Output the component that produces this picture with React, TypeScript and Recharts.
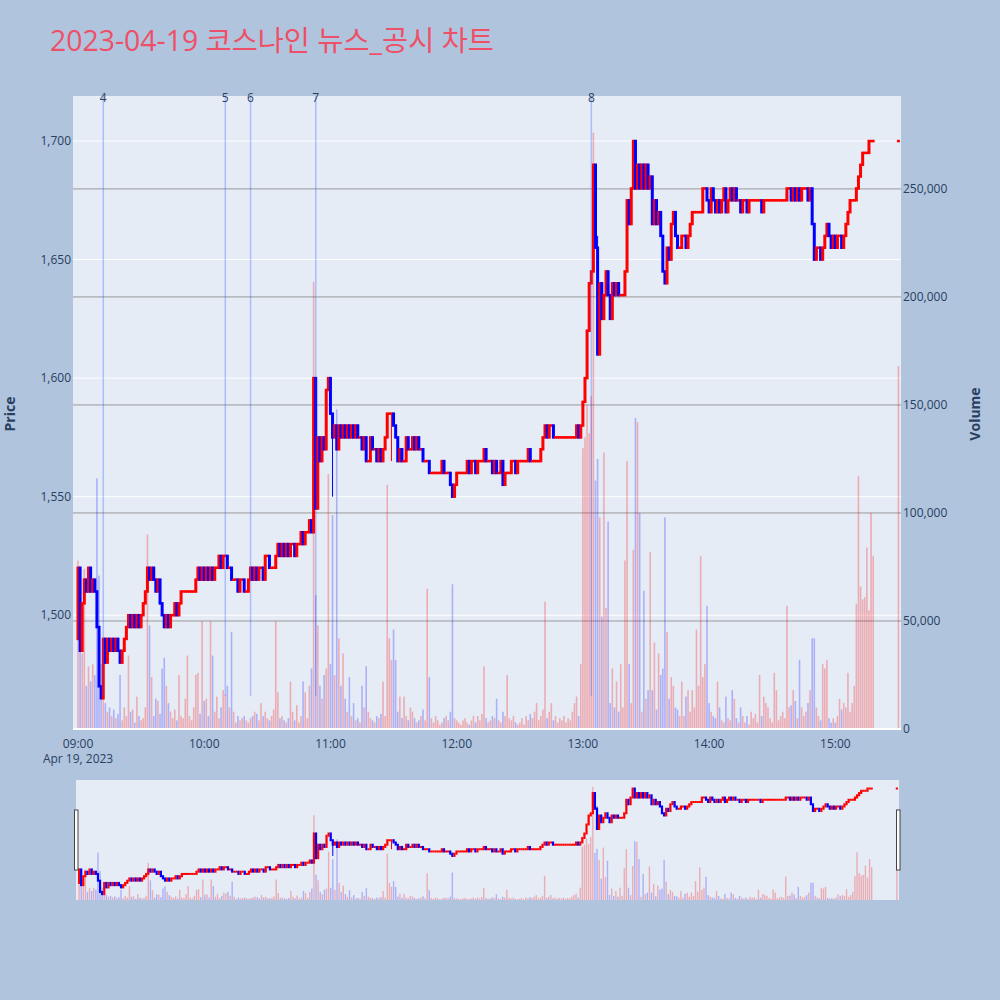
import React from "react";
import { ComposedChart, Bar, XAxis, YAxis, CartesianGrid, ReferenceLine } from "recharts";

const TITLE = "2023-04-19 코스나인 뉴스_공시 차트";
const DATE_LABEL = "Apr 19, 2023";

// first trade of the day
const FIRST_OPEN = 1490;

// close of every 1-minute candle, 09:00 .. 15:18
const closes = [
  1520, 1485, 1505, 1515, 1510, 1520, 1510, 1515, 1510, 1495,
  1470, 1465, 1490, 1480, 1490, 1485, 1490, 1485, 1490, 1485,
  1480, 1485, 1490, 1495, 1500, 1495, 1500, 1495, 1500, 1495,
  1500, 1505, 1510, 1520, 1515, 1520, 1515, 1510, 1515, 1505,
  1500, 1495, 1500, 1495, 1500, 1500, 1505, 1500, 1505, 1510,
  1510, 1510, 1510, 1510, 1510, 1510, 1515, 1520, 1515, 1520,
  1515, 1520, 1515, 1520, 1515, 1520, 1520, 1525, 1520, 1525,
  1525, 1520, 1520, 1515, 1515, 1515, 1510, 1515, 1515, 1510,
  1510, 1515, 1520, 1515, 1520, 1515, 1520, 1520, 1515, 1525,
  1525, 1520, 1520, 1520, 1525, 1530, 1525, 1530, 1525, 1530,
  1525, 1530, 1530, 1525, 1530, 1530, 1535, 1530, 1535, 1535,
  1540, 1535, 1600, 1545, 1575, 1565, 1575, 1570, 1595, 1600,
  1585, 1575, 1580, 1570, 1580, 1575, 1580, 1575, 1580, 1575,
  1580, 1575, 1580, 1575, 1575, 1570, 1575, 1565, 1565, 1575,
  1570, 1570, 1565, 1570, 1565, 1570, 1575, 1585, 1585, 1585,
  1580, 1575, 1565, 1570, 1565, 1565, 1575, 1570, 1570, 1575,
  1570, 1575, 1570, 1570, 1565, 1565, 1565, 1560, 1560, 1560,
  1560, 1560, 1560, 1565, 1560, 1560, 1560, 1555, 1550, 1555,
  1560, 1560, 1560, 1560, 1560, 1565, 1560, 1565, 1565, 1560,
  1565, 1565, 1565, 1570, 1565, 1565, 1565, 1560, 1565, 1560,
  1560, 1565, 1555, 1560, 1560, 1560, 1565, 1565, 1560, 1565,
  1565, 1565, 1565, 1565, 1570, 1565, 1565, 1565, 1565, 1565,
  1570, 1575, 1580, 1575, 1580, 1580, 1575, 1575, 1575, 1575,
  1575, 1575, 1575, 1575, 1575, 1575, 1575, 1580, 1575, 1580,
  1590, 1600, 1620, 1640, 1645, 1690, 1655, 1610, 1640, 1625,
  1635, 1645, 1635, 1625, 1640, 1635, 1640, 1635, 1635, 1635,
  1645, 1675, 1665, 1680, 1700, 1680, 1690, 1680, 1690, 1680,
  1690, 1680, 1685, 1665, 1675, 1665, 1670, 1660, 1645, 1640,
  1655, 1650, 1665, 1670, 1660, 1655, 1655, 1660, 1660, 1655,
  1660, 1665, 1670, 1670, 1670, 1670, 1670, 1680, 1680, 1675,
  1670, 1680, 1675, 1670, 1675, 1670, 1675, 1680, 1670, 1675,
  1680, 1675, 1680, 1675, 1675, 1670, 1675, 1675, 1670, 1675,
  1675, 1675, 1675, 1675, 1675, 1670, 1675, 1675, 1675, 1675,
  1675, 1675, 1675, 1675, 1675, 1675, 1675, 1680, 1680, 1675,
  1680, 1675, 1680, 1675, 1680, 1680, 1680, 1675, 1680, 1665,
  1650, 1655, 1655, 1650, 1655, 1660, 1665, 1660, 1655, 1660,
  1655, 1660, 1660, 1655, 1660, 1665, 1670, 1675, 1675, 1675,
  1680, 1685, 1690, 1695, 1695, 1695, 1700, 1700, 1700,
];

// 15:30 closing auction
const AUCTION_MINUTE = 390;
const auctionClose = 1700;

// traded volume per candle, in thousands of shares
const volumeThousands = [
  78, 50, 35, 74, 20, 29, 22, 30, 25, 116,
  71, 30, 22, 12, 8, 10, 6, 9, 5, 7,
  25, 4, 10, 6, 34, 8, 9, 3, 15, 6,
  4, 5, 10, 90, 48, 24, 6, 14, 13, 7,
  28, 33, 20, 12, 8, 5, 9, 4, 25, 6,
  5, 14, 34, 6, 4, 10, 25, 26, 7, 50,
  13, 14, 6, 50, 34, 8, 15, 5, 10, 18,
  16, 20, 10, 45, 8, 3, 6, 4, 5, 6,
  4, 3, 5, 6, 8, 7, 4, 12, 6, 8,
  5, 4, 6, 9, 50, 17, 5, 6, 4, 3,
  5, 22, 8, 4, 11, 3, 6, 22, 17, 5,
  20, 28, 207, 62, 48, 20, 14, 25, 28, 118,
  30, 99, 25, 148, 42, 20, 35, 14, 8, 24,
  6, 12, 4, 5, 3, 20, 10, 29, 8, 5,
  4, 3, 6, 5, 7, 22, 6, 113, 42, 32,
  46, 32, 8, 15, 5, 15, 6, 4, 10, 8,
  5, 3, 4, 6, 9, 4, 65, 24, 5, 3,
  6, 4, 2, 3, 5, 6, 4, 8, 67, 5,
  4, 3, 2, 4, 5, 3, 2, 4, 6, 3,
  6, 4, 7, 29, 5, 3, 4, 6, 5, 14,
  4, 3, 8, 6, 25, 5, 4, 6, 3, 2,
  3, 5, 2, 6, 4, 7, 5, 8, 12, 4,
  6, 9, 59, 5, 8, 12, 4, 6, 3, 5,
  4, 6, 3, 5, 4, 8, 12, 15, 6, 30,
  130, 135, 150, 137, 154, 276, 115, 125, 98, 52,
  128, 56, 96, 12, 28, 10, 22, 8, 30, 10,
  78, 124, 30, 12, 83, 144, 142, 100, 8, 64,
  14, 18, 82, 18, 40, 9, 35, 25, 28, 98,
  45, 14, 24, 20, 10, 9, 6, 22, 6, 15,
  18, 8, 18, 10, 46, 20, 80, 24, 30, 57,
  12, 8, 6, 5, 22, 10, 4, 3, 15, 5,
  4, 18, 14, 5, 3, 10, 6, 3, 6, 2,
  8, 5, 7, 3, 25, 6, 15, 12, 10, 5,
  3, 26, 18, 4, 6, 8, 5, 57, 10, 11,
  18, 13, 5, 32, 10, 6, 8, 12, 18, 42,
  42, 10, 6, 4, 30, 28, 32, 5, 3, 5,
  3, 6, 14, 9, 12, 10, 26, 8, 12, 20,
  58, 117, 66, 60, 61, 84, 55, 100, 80,
];
const auctionVolumeThousands = 168;

// [minute, low, high] for the few candles with a visible wick
const wicks: [number, number, number][] = [
  [121, 1550, 1585],
  [149, 1565, 1585],
  [247, 1610, 1660],
];

// news / disclosure markers
const newsTimes = ["09:12", "10:10", "10:22", "10:53", "13:04"];
const newsLabels = ["4", "5", "6", "7", "8"];

const priceTicks = [1500, 1550, 1600, 1650, 1700];
const volumeTicks = [0, 50000, 100000, 150000, 200000, 250000];
const timeTicks = [0, 60, 120, 180, 240, 300, 360];

const PRICE_DOMAIN: [number, number] = [1452, 1719];
const VOLUME_DOMAIN: [number, number] = [0, 293000];
const TIME_DOMAIN: [number, number] = [-2.4, 391.2];
const SLIDER_TIME_DOMAIN: [number, number] = [-1.5, 391];

const UP_COLOR = "#ff0000";
const DOWN_COLOR = "#0000ff";
const VOL_UP = "rgba(255,0,0,0.27)";
const VOL_DOWN = "rgba(0,0,255,0.25)";
const PLOT_BG = "#e5ecf6";
const PAGE_BG = "#b0c4de";
const AXIS_TEXT = "#2a3f5f";
const FONT = '"Open Sans", "Noto Sans CJK KR", sans-serif';

const toMinute = (hhmm: string) => {
  const [h, m] = hhmm.split(":").map(Number);
  return (h - 9) * 60 + m;
};

const allCloses = [...closes, auctionClose];
const allVolumes = [...volumeThousands, auctionVolumeThousands];

const rows = allCloses.map((close, i) => {
  const t = i < closes.length ? i : AUCTION_MINUTE;
  const open = i === 0 ? FIRST_OPEN : allCloses[i - 1];
  const wick = wicks.find((w) => w[0] === t);
  const low = Math.min(open, close, wick ? wick[1] : Infinity);
  const high = Math.max(open, close, wick ? wick[2] : -Infinity);
  return {
    t,
    open,
    close,
    range: [low, high],
    volume: allVolumes[i] * 1000,
    rising: close >= open,
  };
});

const fmtTime = (m: number) =>
  `${String(9 + Math.floor(m / 60)).padStart(2, "0")}:${String(m % 60).padStart(2, "0")}`;

const CandleBody = (props: any) => {
  const { x, y, width, height, payload, bodyWidth, edge } = props;
  if (x == null || y == null || !payload) return null;
  const top = Math.min(y, y + (height || 0));
  const h = Math.abs(height || 0);
  const [lo, hi] = payload.range;
  const span = hi - lo;
  const toY = (v: number) => (span > 0 ? top + ((hi - v) / span) * h : top);
  const color = payload.rising ? UP_COLOR : DOWN_COLOR;
  const cx = x + width / 2;
  const bTop = toY(Math.max(payload.open, payload.close));
  const bBot = toY(Math.min(payload.open, payload.close));
  return (
    <g>
      {h > 0 && <line x1={cx} x2={cx} y1={top} y2={top + h} stroke={color} strokeWidth={1} />}
      <rect x={cx - bodyWidth / 2} y={bTop - edge} width={bodyWidth} height={bBot - bTop + 2 * edge} fill={color} />
    </g>
  );
};

const VolumeBar = (props: any) => {
  const { x, y, width, height, payload, barWidth } = props;
  if (x == null || y == null || !payload) return null;
  const cx = x + width / 2;
  return (
    <rect
      x={cx - barWidth / 2}
      y={Math.min(y, y + height)}
      width={barWidth}
      height={Math.abs(height)}
      fill={payload.rising ? VOL_UP : VOL_DOWN}
    />
  );
};

const TimeTick = ({ x, y, payload }: any) => (
  <g>
    <text x={x} y={y + 11} textAnchor="middle" fill={AXIS_TEXT} fontSize={12} fontFamily={FONT}>
      {fmtTime(payload.value)}
    </text>
    {payload.value === 0 && (
      <text x={x} y={y + 26} textAnchor="middle" fill={AXIS_TEXT} fontSize={12} fontFamily={FONT}>
        {DATE_LABEL}
      </text>
    )}
  </g>
);

const tickStyle = { fill: AXIS_TEXT, fontSize: 12, fontFamily: FONT };

export default function App() {
  return (
    <div style={{ position: "absolute", left: 0, top: 0, width: 1000, height: 1000, background: PAGE_BG, fontFamily: FONT }}>
      <div style={{ position: "absolute", left: 0, top: 0 }}>
        <ComposedChart width={1000} height={780} data={rows} margin={{ top: 96, right: 39, bottom: 21, left: 13 }}>
          <XAxis
            xAxisId="px"
            dataKey="t"
            type="number"
            domain={TIME_DOMAIN}
            allowDataOverflow
            ticks={timeTicks}
            tick={<TimeTick />}
            tickLine={false}
            axisLine={false}
            height={30}
            interval={0}
          />
          <XAxis xAxisId="vx" dataKey="t" type="number" domain={TIME_DOMAIN} allowDataOverflow hide />
          <YAxis
            yAxisId="price"
            orientation="left"
            type="number"
            domain={PRICE_DOMAIN}
            allowDataOverflow
            ticks={priceTicks}
            tickFormatter={(v: number) => v.toLocaleString("en-US")}
            tick={tickStyle}
            tickLine={false}
            axisLine={false}
            tickSize={0}
            tickMargin={2}
            width={60}
          />
          <YAxis
            yAxisId="vol"
            orientation="right"
            type="number"
            domain={VOLUME_DOMAIN}
            allowDataOverflow
            ticks={volumeTicks}
            tickFormatter={(v: number) => v.toLocaleString("en-US")}
            tick={tickStyle}
            tickLine={false}
            axisLine={false}
            tickSize={0}
            tickMargin={2}
            width={60}
          />
          <CartesianGrid
            xAxisId="px"
            yAxisId="price"
            fill={PLOT_BG}
            fillOpacity={1}
            stroke="#ffffff"
            strokeWidth={1}
            vertical={false}
            horizontalValues={priceTicks}
          />
          <CartesianGrid
            xAxisId="px"
            yAxisId="vol"
            stroke="#999999"
            strokeWidth={1}
            vertical={false}
            horizontalValues={volumeTicks.slice(1)}
          />
          <ReferenceLine xAxisId="px" yAxisId="vol" y={0} stroke="#ffffff" strokeWidth={2} />
          {newsTimes.map((time, i) => (
            <ReferenceLine
              key={time}
              xAxisId="px"
              yAxisId="price"
              segment={[
                { x: toMinute(time), y: PRICE_DOMAIN[1] },
                { x: toMinute(time), y: 1466 },
              ]}
              stroke="rgba(40,80,255,0.3)"
              strokeWidth={1.5}
              ifOverflow="visible"
              label={{ value: newsLabels[i], position: "top", offset: -6, fill: AXIS_TEXT, fontSize: 12, fontFamily: FONT }}
            />
          ))}
          <Bar
            xAxisId="vx"
            yAxisId="vol"
            dataKey="volume"
            barSize={2}
            isAnimationActive={false}
            shape={(p: any) => <VolumeBar {...p} barWidth={1.6} />}
          />
          <Bar
            xAxisId="px"
            yAxisId="price"
            dataKey="range"
            barSize={2}
            isAnimationActive={false}
            shape={(p: any) => <CandleBody {...p} bodyWidth={3} edge={1.25} />}
          />
        </ComposedChart>
      </div>

      <div style={{ position: "absolute", left: 0, top: 780 }}>
        <ComposedChart width={1000} height={120} data={rows} margin={{ top: 0, right: 101, bottom: 0, left: 76 }}>
          <XAxis xAxisId="px" dataKey="t" type="number" domain={SLIDER_TIME_DOMAIN} allowDataOverflow hide />
          <XAxis xAxisId="vx" dataKey="t" type="number" domain={SLIDER_TIME_DOMAIN} allowDataOverflow hide />
          <YAxis yAxisId="price" type="number" domain={PRICE_DOMAIN} allowDataOverflow hide />
          <YAxis yAxisId="vol" type="number" domain={VOLUME_DOMAIN} allowDataOverflow hide />
          <CartesianGrid xAxisId="px" yAxisId="price" fill={PLOT_BG} fillOpacity={1} stroke="none" horizontal={false} vertical={false} />
          <Bar
            xAxisId="vx"
            yAxisId="vol"
            dataKey="volume"
            barSize={2}
            isAnimationActive={false}
            shape={(p: any) => <VolumeBar {...p} barWidth={1.4} />}
          />
          <Bar
            xAxisId="px"
            yAxisId="price"
            dataKey="range"
            barSize={2}
            isAnimationActive={false}
            shape={(p: any) => <CandleBody {...p} bodyWidth={2.2} edge={1} />}
          />
        </ComposedChart>
      </div>

      <svg width={1000} height={1000} style={{ position: "absolute", left: 0, top: 0, pointerEvents: "none" }}>
        <text x={50} y={51} fontSize={28.4} fill="#ee5067" fontFamily={FONT}>
          {TITLE}
        </text>
        <text transform="translate(15,414) rotate(-90)" textAnchor="middle" fontSize={14} fontWeight="bold" fill={AXIS_TEXT} fontFamily={FONT}>
          Price
        </text>
        <text transform="translate(980,414) rotate(-90)" textAnchor="middle" fontSize={14} fontWeight="bold" fill={AXIS_TEXT} fontFamily={FONT}>
          Volume
        </text>
        <rect x={74.5} y={810} width={3.5} height={60} fill="#ffffff" stroke="#444444" strokeWidth={1} />
        <rect x={896.5} y={810} width={3.5} height={60} fill="#ffffff" stroke="#444444" strokeWidth={1} />
      </svg>
    </div>
  );
}
